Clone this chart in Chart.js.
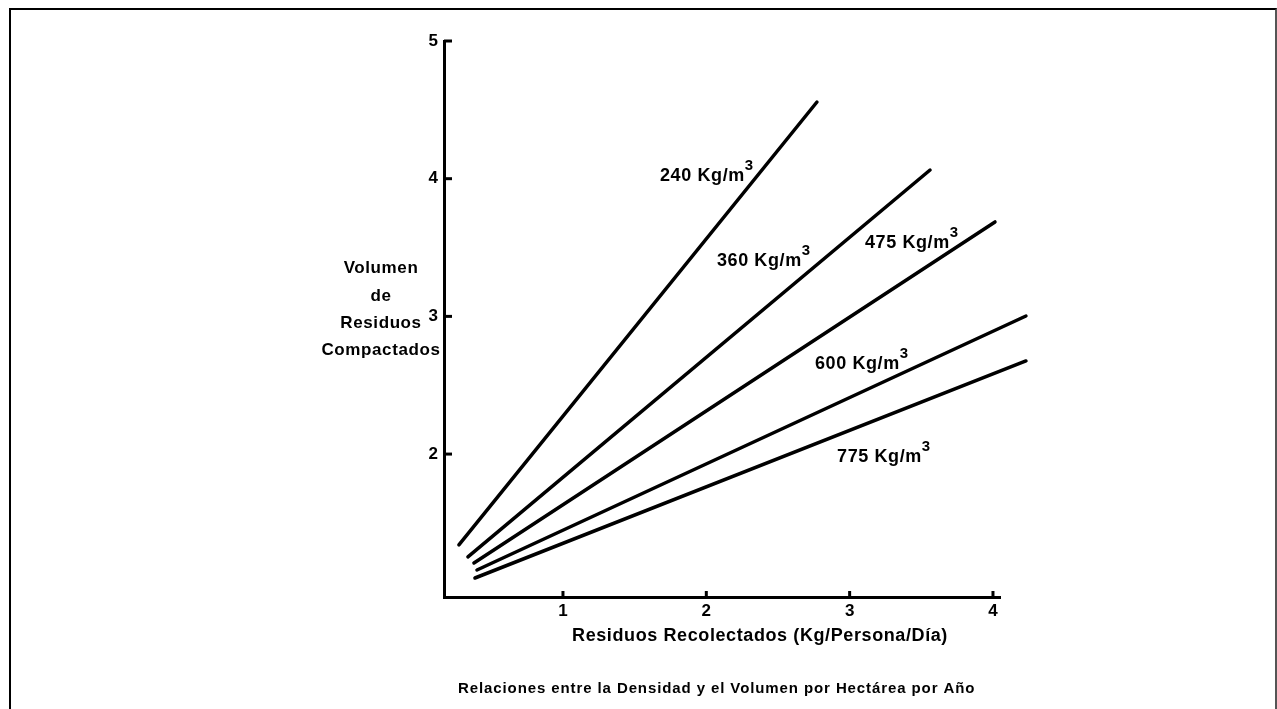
<!DOCTYPE html>
<html><head><meta charset="utf-8">
<script src="https://cdn.jsdelivr.net/npm/chart.js@4/dist/chart.umd.min.js"></script>
<style>
html,body{margin:0;padding:0;background:#fff;overflow:hidden}
#wrap{position:relative;width:1277px;height:709px}
#frame{position:absolute;left:9px;top:8px;width:1264px;height:760px;border-top:2px solid #000;border-left:2px solid #000;border-right:2px solid #555;}
canvas{position:absolute;left:0;top:0}
</style></head><body>
<div id="wrap"><div id="frame"></div><canvas id="c" width="1277" height="709"></canvas></div>
<script>
// ---- data ----
const densityNames = ['240', '360', '475', '600', '775'];
const xTicks = [1, 2, 3, 4];
const yTicks = [2, 3, 4, 5];
const line240x = [0.274, 2.772];
const line240y = [1.340, 4.557];
const line360x = [0.337, 3.561];
const line360y = [1.253, 4.063];
const line475x = [0.379, 4.014];
const line475y = [1.209, 3.686];
const line600x = [0.400, 4.230];
const line600y = [1.158, 3.003];
const line775x = [0.386, 4.230];
const line775y = [1.100, 2.676];
const xTitle = 'Residuos Recolectados (Kg/Persona/Día)';
const yTitle = ['Volumen', 'de', 'Residuos', 'Compactados'];
const caption = 'Relaciones entre la Densidad y el Volumen por Hectárea por Año';
// label anchors (left edge, baseline) in data units
const labelX = [1.677, 2.074, 3.107, 2.758, 2.912];
const labelY = [3.983, 3.366, 3.497, 2.618, 1.943];

const FONT = "'Liberation Sans', Arial, sans-serif";
Chart.defaults.font.family = FONT;
Chart.defaults.color = '#000';

const xs = [line240x, line360x, line475x, line600x, line775x];
const ys = [line240y, line360y, line475y, line600y, line775y];
const datasets = densityNames.map((n, i) => ({
  label: n + ' Kg/m³',
  data: xs[i].map((v, k) => ({x: v, y: ys[i][k]})),
  showLine: true,
  borderColor: '#000',
  borderWidth: 3.5,
  pointRadius: 0,
  tension: 0,
  clip: false,
  borderCapStyle: 'round'
}));

const annot = {
  id: 'annot',
  afterDraw(chart) {
    const {ctx} = chart;
    const x = chart.scales.x, y = chart.scales.y;
    ctx.save();
    ctx.fillStyle = '#000';
    ctx.strokeStyle = '#000';
    ctx.lineWidth = 3;
    xTicks.forEach(v => {
      const px = x.getPixelForValue(v);
      ctx.beginPath(); ctx.moveTo(px, y.bottom); ctx.lineTo(px, y.bottom - 6); ctx.stroke();
    });
    yTicks.forEach(v => {
      const py = y.getPixelForValue(v);
      ctx.beginPath(); ctx.moveTo(x.left, py); ctx.lineTo(x.left + 8, py); ctx.stroke();
    });
    ctx.letterSpacing = '0.6px';
    // line labels
    ctx.textBaseline = 'alphabetic';
    ctx.textAlign = 'left';
    densityNames.forEach((n, i) => {
      const px = x.getPixelForValue(labelX[i]);
      const py = y.getPixelForValue(labelY[i]);
      ctx.font = 'bold 18px ' + FONT;
      const t = n + ' Kg/m';
      ctx.fillText(t, px, py);
      const w = ctx.measureText(t).width;
      ctx.font = 'bold 15px ' + FONT;
      ctx.fillText('3', px + w, py - 11);
    });
    // x title
    ctx.font = 'bold 18px ' + FONT;
    ctx.textAlign = 'center';
    ctx.fillText(xTitle, 760, 641);
    // y title
    ctx.font = 'bold 17px ' + FONT;
    const yb = [273, 301, 328, 355];
    yTitle.forEach((t, i) => ctx.fillText(t, 381, yb[i]));
    // caption
    ctx.letterSpacing = '0.9px';
    ctx.font = 'bold 15px ' + FONT;
    ctx.textAlign = 'left';
    ctx.fillText(caption, 458, 693);
    ctx.restore();
  }
};

new Chart(document.getElementById('c'), {
  type: 'scatter',
  data: {datasets},
  options: {
    responsive: false,
    devicePixelRatio: 1,
    animation: false,
    layout: {padding: {left: 0, top: 41, right: 277, bottom: 0}},
    plugins: {legend: {display: false}, tooltip: {enabled: false}},
    scales: {
      x: {
        type: 'linear', min: 0.170, max: 4.049,
        afterBuildTicks: s => { s.ticks = xTicks.map(v => ({value: v})); },
        afterFit: s => { s.height = 112; },
        grid: {display: false, drawTicks: false},
        border: {display: true, color: '#000', width: 3},
        ticks: {font: {size: 17, weight: 'bold'}, padding: 4, color: '#000', maxRotation: 0}
      },
      y: {
        type: 'linear', min: 0.962, max: 5,
        afterBuildTicks: s => { s.ticks = yTicks.map(v => ({value: v})); },
        afterFit: s => { s.width = 444; },
        grid: {display: false, drawTicks: false},
        border: {display: true, color: '#000', width: 3},
        ticks: {font: {size: 17, weight: 'bold'}, padding: 6, color: '#000'}
      }
    }
  },
  plugins: [annot]
});
</script>
</body></html>
